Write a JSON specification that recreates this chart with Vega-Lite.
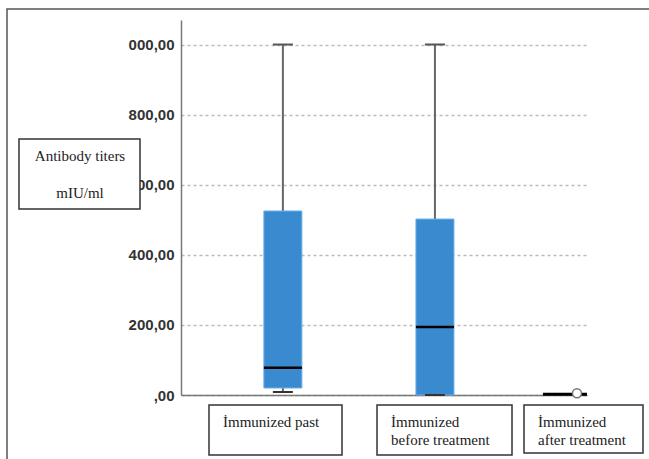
{
  "$schema": "https://vega.github.io/schema/vega-lite/v6.json",
  "width": 406,
  "height": 375,
  "autosize": {"type": "none"},
  "padding": {"left": 181, "top": 20, "right": 62, "bottom": 64},
  "background": "white",
  "config": {
    "view": {"stroke": null},
    "scale": {"continuousPadding": 0},
    "axisX": {"labels": false, "ticks": false, "grid": false, "domainColor": "#777", "domainWidth": 1.5},
    "axisY": {"ticks": false, "labelPadding": 7, "labelFont": "Liberation Sans", "labelFontSize": 15, "labelFontWeight": "bold", "labelColor": "#333",
      "domainColor": "#777", "domainWidth": 1.5, "grid": true, "gridDash": [3, 3], "gridColor": "#bbb", "gridWidth": 1.5}
  },
  "datasets": {
    "stats": [
      {"group": "Immunized past", "pos": 1, "low": 8.6, "q1": 20, "median": 78, "q3": 525, "high": 1000},
      {"group": "Immunized before treatment", "pos": 2, "low": 0, "q1": 0, "median": 194, "q3": 502, "high": 1000},
      {"group": "Immunized after treatment", "pos": 2.855, "low": 0, "q1": 0, "median": 2, "q3": 2, "high": 2}
    ],
    "outliers": [{"group": "Immunized after treatment", "pos": 2.934, "value": 5}],
    "frame": [{"x": -0.8143, "x2": 3.7, "y": 1101.4, "y2": -230}],
    "notes": [
      {"x": -0.7354, "x2": 0.0604, "y": 730.4, "y2": 530.7},
      {"x": 0.5141, "x2": 1.3888, "y": -28.5, "y2": -171.2},
      {"x": 1.619, "x2": 2.5068, "y": -28.5, "y2": -171.2},
      {"x": 2.5857, "x2": 3.3683, "y": -28.5, "y2": -165.5}
    ],
    "noteText": [
      {"x": 0.6062, "y": -77, "text": "İmmunized past"},
      {"x": 1.711, "y": -77, "text": "İmmunized"},
      {"x": 1.711, "y": -128.4, "text": "before treatment"},
      {"x": 2.6778, "y": -77, "text": "İmmunized"},
      {"x": 2.6778, "y": -128.4, "text": "after treatment"}
    ],
    "titleText": [
      {"x": -0.3342, "y": 681.9, "text": "Antibody titers"},
      {"x": -0.3342, "y": 576.4, "text": "mIU/ml"}
    ]
  },
  "layer": [
    {
      "data": {"name": "frame"},
      "mark": {"type": "rect", "fillOpacity": 0, "stroke": "#555", "strokeWidth": 1.5},
      "encoding": {
        "x": {"field": "x", "type": "quantitative", "title": null, "scale": {"domain": [0.33, 3.0], "nice": false, "zero": false, "padding": 0}},
        "x2": {"field": "x2"},
        "y": {"field": "y", "type": "quantitative", "title": null, "scale": {"domain": [0, 1070], "nice": false, "zero": false, "padding": 0},
          "axis": {"values": [0, 200, 400, 600, 800, 1000], "labelExpr": "datum.value == 0 ? ',00' : datum.value == 1000 ? '000,00' : datum.value + ',00'"}},
        "y2": {"field": "y2"}
      }
    },
    {
      "data": {"name": "stats"},
      "mark": {"type": "rule", "color": "#666", "strokeWidth": 2},
      "encoding": {
        "x": {"field": "pos", "type": "quantitative", "title": null, "scale": {"domain": [0.33, 3.0], "nice": false, "zero": false, "padding": 0}},
        "y": {"field": "q3", "type": "quantitative", "title": null, "scale": {"domain": [0, 1070], "nice": false, "zero": false, "padding": 0},
          "axis": {"values": [0, 200, 400, 600, 800, 1000], "labelExpr": "datum.value == 0 ? ',00' : datum.value == 1000 ? '000,00' : datum.value + ',00'"}},
        "y2": {"field": "high"}
      }
    },
    {
      "data": {"name": "stats"},
      "mark": {"type": "rule", "color": "#666", "strokeWidth": 2},
      "encoding": {
        "x": {"field": "pos", "type": "quantitative", "title": null, "scale": {"domain": [0.33, 3.0], "nice": false, "zero": false, "padding": 0}},
        "y": {"field": "low", "type": "quantitative", "title": null, "scale": {"domain": [0, 1070], "nice": false, "zero": false, "padding": 0},
          "axis": {"values": [0, 200, 400, 600, 800, 1000], "labelExpr": "datum.value == 0 ? ',00' : datum.value == 1000 ? '000,00' : datum.value + ',00'"}},
        "y2": {"field": "q1"}
      }
    },
    {
      "data": {"name": "stats"},
      "transform": [{"filter": "datum.pos < 2.5"}],
      "mark": {"type": "bar", "size": 38, "fill": "#3a8ad0", "stroke": "#66b0ec", "strokeWidth": 1},
      "encoding": {
        "x": {"field": "pos", "type": "quantitative", "title": null, "scale": {"domain": [0.33, 3.0], "nice": false, "zero": false, "padding": 0}},
        "y": {"field": "q1", "type": "quantitative", "title": null, "scale": {"domain": [0, 1070], "nice": false, "zero": false, "padding": 0},
          "axis": {"values": [0, 200, 400, 600, 800, 1000], "labelExpr": "datum.value == 0 ? ',00' : datum.value == 1000 ? '000,00' : datum.value + ',00'"}},
        "y2": {"field": "q3"}
      }
    },
    {
      "data": {"name": "stats"},
      "transform": [{"filter": "datum.pos < 2.5"}],
      "mark": {"type": "tick", "orient": "horizontal", "size": 20, "thickness": 2, "color": "#555", "opacity": 1},
      "encoding": {
        "x": {"field": "pos", "type": "quantitative", "title": null, "scale": {"domain": [0.33, 3.0], "nice": false, "zero": false, "padding": 0}},
        "y": {"field": "high", "type": "quantitative", "title": null, "scale": {"domain": [0, 1070], "nice": false, "zero": false, "padding": 0},
          "axis": {"values": [0, 200, 400, 600, 800, 1000], "labelExpr": "datum.value == 0 ? ',00' : datum.value == 1000 ? '000,00' : datum.value + ',00'"}}
      }
    },
    {
      "data": {"name": "stats"},
      "transform": [{"filter": "datum.pos < 2.5"}],
      "mark": {"type": "tick", "orient": "horizontal", "size": 20, "thickness": 2, "color": "#333", "opacity": 1},
      "encoding": {
        "x": {"field": "pos", "type": "quantitative", "title": null, "scale": {"domain": [0.33, 3.0], "nice": false, "zero": false, "padding": 0}},
        "y": {"field": "low", "type": "quantitative", "title": null, "scale": {"domain": [0, 1070], "nice": false, "zero": false, "padding": 0},
          "axis": {"values": [0, 200, 400, 600, 800, 1000], "labelExpr": "datum.value == 0 ? ',00' : datum.value == 1000 ? '000,00' : datum.value + ',00'"}}
      }
    },
    {
      "data": {"name": "stats"},
      "transform": [{"filter": "datum.pos < 2.5"}],
      "mark": {"type": "tick", "orient": "horizontal", "size": 38, "thickness": 2.5, "color": "#000", "opacity": 1},
      "encoding": {
        "x": {"field": "pos", "type": "quantitative", "title": null, "scale": {"domain": [0.33, 3.0], "nice": false, "zero": false, "padding": 0}},
        "y": {"field": "median", "type": "quantitative", "title": null, "scale": {"domain": [0, 1070], "nice": false, "zero": false, "padding": 0},
          "axis": {"values": [0, 200, 400, 600, 800, 1000], "labelExpr": "datum.value == 0 ? ',00' : datum.value == 1000 ? '000,00' : datum.value + ',00'"}}
      }
    },
    {
      "data": {"name": "stats"},
      "transform": [{"filter": "datum.pos > 2.5"}],
      "mark": {"type": "tick", "orient": "horizontal", "size": 44, "thickness": 3, "color": "#000", "opacity": 1},
      "encoding": {
        "x": {"field": "pos", "type": "quantitative", "title": null, "scale": {"domain": [0.33, 3.0], "nice": false, "zero": false, "padding": 0}},
        "y": {"field": "median", "type": "quantitative", "title": null, "scale": {"domain": [0, 1070], "nice": false, "zero": false, "padding": 0},
          "axis": {"values": [0, 200, 400, 600, 800, 1000], "labelExpr": "datum.value == 0 ? ',00' : datum.value == 1000 ? '000,00' : datum.value + ',00'"}}
      }
    },
    {
      "data": {"name": "outliers"},
      "mark": {"type": "point", "shape": "circle", "size": 80, "filled": true, "fill": "white", "stroke": "#777", "strokeWidth": 1.5, "opacity": 1},
      "encoding": {
        "x": {"field": "pos", "type": "quantitative", "title": null, "scale": {"domain": [0.33, 3.0], "nice": false, "zero": false, "padding": 0}},
        "y": {"field": "value", "type": "quantitative", "title": null, "scale": {"domain": [0, 1070], "nice": false, "zero": false, "padding": 0},
          "axis": {"values": [0, 200, 400, 600, 800, 1000], "labelExpr": "datum.value == 0 ? ',00' : datum.value == 1000 ? '000,00' : datum.value + ',00'"}}
      }
    },
    {
      "data": {"name": "notes"},
      "mark": {"type": "rect", "fill": "white", "stroke": "#333", "strokeWidth": 1.5},
      "encoding": {
        "x": {"field": "x", "type": "quantitative", "title": null, "scale": {"domain": [0.33, 3.0], "nice": false, "zero": false, "padding": 0}},
        "x2": {"field": "x2"},
        "y": {"field": "y", "type": "quantitative", "title": null, "scale": {"domain": [0, 1070], "nice": false, "zero": false, "padding": 0},
          "axis": {"values": [0, 200, 400, 600, 800, 1000], "labelExpr": "datum.value == 0 ? ',00' : datum.value == 1000 ? '000,00' : datum.value + ',00'"}},
        "y2": {"field": "y2"}
      }
    },
    {
      "data": {"name": "noteText"},
      "mark": {"type": "text", "align": "left", "baseline": "middle", "font": "Liberation Serif", "fontSize": 15, "color": "#222"},
      "encoding": {
        "x": {"field": "x", "type": "quantitative", "title": null, "scale": {"domain": [0.33, 3.0], "nice": false, "zero": false, "padding": 0}},
        "y": {"field": "y", "type": "quantitative", "title": null, "scale": {"domain": [0, 1070], "nice": false, "zero": false, "padding": 0},
          "axis": {"values": [0, 200, 400, 600, 800, 1000], "labelExpr": "datum.value == 0 ? ',00' : datum.value == 1000 ? '000,00' : datum.value + ',00'"}},
        "text": {"field": "text"}
      }
    },
    {
      "data": {"name": "titleText"},
      "mark": {"type": "text", "align": "center", "baseline": "middle", "font": "Liberation Serif", "fontSize": 15, "color": "#222"},
      "encoding": {
        "x": {"field": "x", "type": "quantitative", "title": null, "scale": {"domain": [0.33, 3.0], "nice": false, "zero": false, "padding": 0}},
        "y": {"field": "y", "type": "quantitative", "title": null, "scale": {"domain": [0, 1070], "nice": false, "zero": false, "padding": 0},
          "axis": {"values": [0, 200, 400, 600, 800, 1000], "labelExpr": "datum.value == 0 ? ',00' : datum.value == 1000 ? '000,00' : datum.value + ',00'"}},
        "text": {"field": "text"}
      }
    }
  ]
}
